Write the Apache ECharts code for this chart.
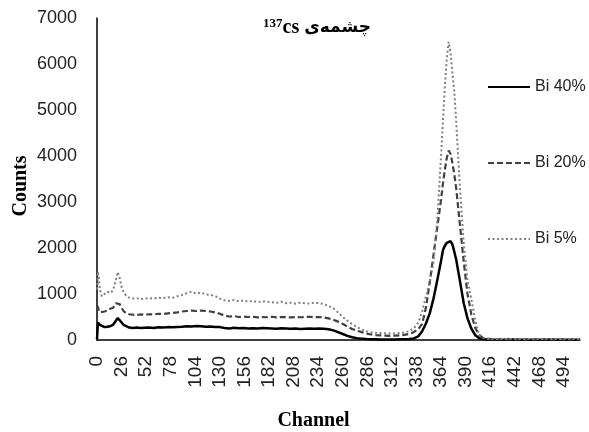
<!DOCTYPE html>
<html>
<head>
<meta charset="utf-8">
<script src="https://cdn.jsdelivr.net/npm/echarts@6/dist/echarts.min.js"></script>
<style>
html, body { margin: 0; padding: 0; background: #fff; }
#chart { width: 589px; height: 432px; }
</style>
</head>
<body>
<div id="chart"></div>
<script>
var channels = [0, 1, 2, 3, 5, 8, 11, 14, 17, 20, 22, 24, 26, 28, 31, 34, 38, 42, 46, 50,
    55, 60, 65, 70, 75, 80, 85, 90, 95, 100, 105, 110, 115, 120, 125, 130, 135, 140, 145, 150,
    155, 160, 165, 170, 175, 180, 185, 190, 195, 200, 205, 210, 215, 220, 225, 230, 235, 240, 245, 250,
    255, 260, 265, 270, 275, 280, 285, 290, 295, 300, 305, 310, 315, 320, 325, 330, 335, 340,
    344, 348, 352, 356, 360, 364, 366, 368, 370, 372, 374, 376, 378, 380, 384, 388, 392, 396, 400, 404, 408, 412,
    420, 430, 440, 450, 460, 470, 480, 490, 500, 511];

// Bi 40%
var bi40 = [20, 380, 350, 330, 300, 280, 290, 300, 330, 420, 480, 450, 380, 330, 300, 270, 260, 270, 260, 265,
    270, 260, 275, 270, 280, 275, 285, 290, 300, 295, 305, 300, 290, 295, 285, 280, 260, 250, 265, 255,
    260, 250, 255, 250, 260, 255, 250, 245, 255, 250, 245, 250, 240, 245, 250, 245, 250, 245, 235, 210,
    170, 130, 90, 60, 40, 30, 20, 15, 15, 12, 12, 10, 12, 15, 15, 20, 35, 80,
    190, 360, 580, 900, 1300, 1720, 1950, 2050, 2110, 2090, 2150, 2080, 1920, 1750, 1280, 800, 470, 250, 110, 45, 20, 12,
    10, 8, 9, 8, 7, 8, 9, 8, 7, 8];

// Bi 20%
var bi20 = [760, 720, 650, 600, 580, 620, 640, 680, 700, 800, 840, 780, 700, 630, 580, 560, 550, 545, 555, 550,
    560, 555, 570, 565, 580, 590, 600, 620, 630, 640, 630, 640, 630, 620, 600, 570, 530, 510, 520, 500,
    510, 500, 505, 490, 500, 495, 505, 490, 500, 495, 490, 500, 495, 500, 505, 495, 500, 490, 470, 440,
    400, 350, 290, 240, 200, 170, 140, 120, 105, 100, 95, 90, 95, 100, 110, 130, 170, 240,
    350, 700, 1250, 1850, 2450, 3050, 3400, 3700, 3950, 4120, 4050, 3850, 3600, 3300, 2500, 1700, 1000, 560, 270, 120, 50, 25,
    18, 15, 16, 14, 15, 16, 14, 15, 14, 15];

// Bi 5%
var bi5 = [1100, 1480, 1350, 1100, 950, 1000, 1050, 1020, 1080, 1300, 1480, 1350, 1150, 1040, 960, 920, 900, 910, 890, 900,
    910, 900, 920, 910, 930, 920, 950, 980, 1020, 1050, 1010, 1030, 990, 980, 960, 900, 860, 850, 870, 840,
    860, 830, 850, 820, 840, 830, 820, 810, 830, 800, 810, 790, 810, 800, 790, 810, 800, 780, 740, 690,
    600, 500, 420, 340, 280, 230, 190, 170, 155, 150, 145, 140, 145, 150, 165, 190, 250, 380,
    620, 950, 1250, 1700, 2600, 4000, 4750, 5500, 6100, 6480, 6250, 5800, 5400, 4750, 3300, 2100, 1300, 900, 450, 120, 50, 30,
    24, 22, 20, 22, 21, 20, 22, 21, 20, 22];

function pairs(values) {
    var out = [];
    for (var i = 0; i < channels.length; i++) {
        out.push([channels[i], values[i]]);
    }
    return out;
}

var myChart = echarts.init(document.getElementById('chart'), null, {renderer: 'canvas'});

var option = {
    backgroundColor: '#ffffff',
    animation: false,
    title: {
        text: '{sup|137}{cs|cs} {ar|چشمه‌ی}',
        left: 258,
        top: 12,
        textStyle: {
            rich: {
                sup: {fontFamily: 'Liberation Serif', fontWeight: 'bold', fontSize: 13, verticalAlign: 'top', color: '#000', padding: [0, 0, 8, 0]},
                cs: {fontFamily: 'Liberation Serif', fontWeight: 'bold', fontSize: 20, color: '#000'},
                ar: {fontFamily: 'DejaVu Sans', fontWeight: 'bold', fontSize: 17, color: '#000'}
            }
        }
    },
    legend: {
        orient: 'vertical',
        left: 482,
        top: 74,
        itemWidth: 42,
        itemHeight: 16,
        itemGap: 60,
        itemStyle: {opacity: 0},
        textStyle: {fontFamily: 'Liberation Sans', fontSize: 16, color: '#222'},
        data: ['Bi 40%', 'Bi 20%', 'Bi 5%']
    },
    grid: {
        left: 97,
        right: 9,
        top: 18,
        bottom: 92,
        containLabel: false,
        outerBoundsMode: 'none'
    },
    xAxis: {
        type: 'value',
        min: 0,
        max: 511,
        interval: 26,
        name: 'Channel',
        nameLocation: 'middle',
        nameGap: 71,
        nameTextStyle: {fontFamily: 'Liberation Serif', fontWeight: 'bold', fontSize: 20, color: '#000', padding: [0, 50, 0, 0]},
        axisLine: {show: true, lineStyle: {color: '#000', width: 1.5}},
        axisTick: {show: false},
        splitLine: {show: false},
        axisLabel: {
            rotate: 90,
            margin: 16,
            showMaxLabel: false,
            fontFamily: 'Liberation Sans',
            fontSize: 19,
            color: '#222'
        }
    },
    yAxis: {
        type: 'value',
        min: 0,
        max: 7000,
        interval: 1000,
        name: 'Counts',
        nameLocation: 'middle',
        nameMoveOverlap: false,
        nameGap: 66,
        nameTextStyle: {fontFamily: 'Liberation Serif', fontWeight: 'bold', fontSize: 20, color: '#000', padding: [0, 14, 0, 0]},
        axisLine: {show: true, lineStyle: {color: '#000', width: 1.5}},
        axisTick: {show: false},
        splitLine: {show: false},
        axisLabel: {
            margin: 20,
            fontFamily: 'Liberation Sans',
            fontSize: 18,
            color: '#222',
            formatter: function (value) {
                return String(value);
            }
        }
    },
    series: [
        {
            name: 'Bi 40%',
            type: 'line',
            symbol: 'none',
            color: '#000000',
            lineStyle: {color: '#000000', width: 2.5},
            data: pairs(bi40)
        },
        {
            name: 'Bi 20%',
            type: 'line',
            symbol: 'none',
            color: '#404040',
            lineStyle: {color: '#404040', width: 2.2, type: [6, 3]},
            data: pairs(bi20)
        },
        {
            name: 'Bi 5%',
            type: 'line',
            symbol: 'none',
            color: '#7f7f7f',
            lineStyle: {color: '#7f7f7f', width: 2, type: [2, 2.5]},
            data: pairs(bi5)
        }
    ]
};
myChart.setOption(option);
</script>
</body>
</html>
